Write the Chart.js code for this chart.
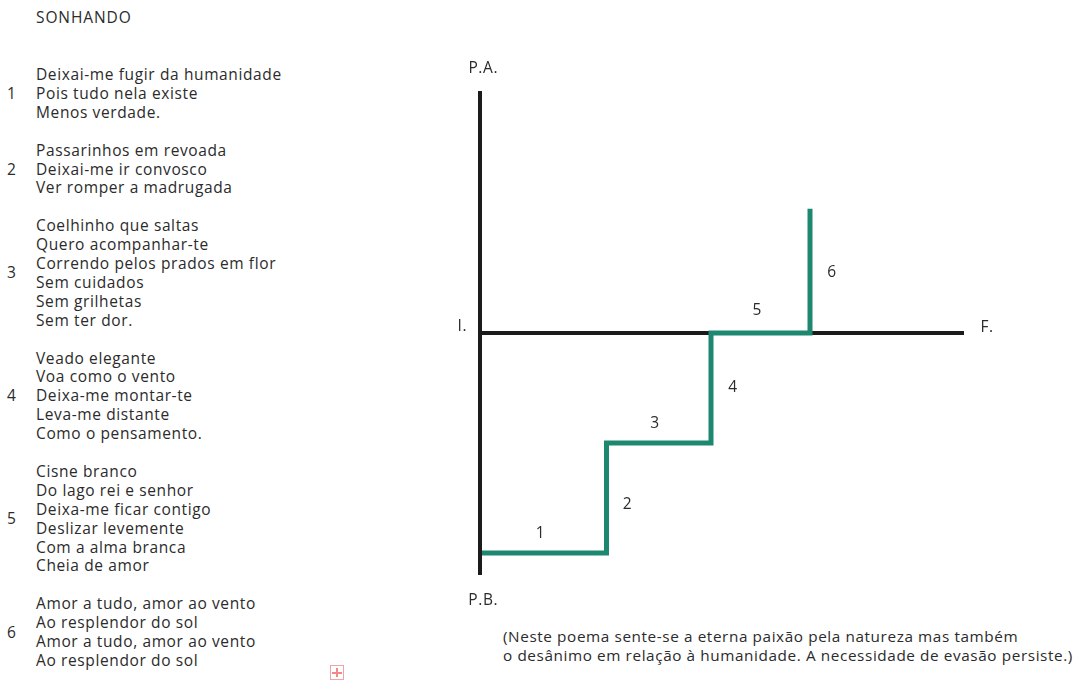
<!DOCTYPE html>
<html>
<head>
<meta charset="utf-8">
<script src="https://cdn.jsdelivr.net/npm/chart.js@4.4.1/dist/chart.umd.min.js"></script>
<style>
  html, body { margin: 0; padding: 0; }
  body { width: 1081px; height: 680px; background: #fff; position: relative; overflow: hidden;
         font-family: "Open Sans", "Noto Sans", sans-serif; color: #2b2b2b; font-size: 15.5px; letter-spacing: 0.62px; }
  #title { position: absolute; left: 36px; top: 8px; line-height: 19px; letter-spacing: 0.9px; }
  .stanza { position: absolute; left: 0; display: flex; align-items: center; line-height: 18.9px; }
  .num { width: 36px; text-indent: 7px; letter-spacing: 0; }
  #caption { position: absolute; left: 503px; top: 627px; line-height: 19px; font-size: 15.3px; letter-spacing: 0.6px; white-space: nowrap; }
  #chartWrap { position: absolute; left: 425px; top: 47px; width: 605px; height: 572px; }
  #icon { position: absolute; left: 330px; top: 665px; width: 12px; height: 13px; border: 1px solid #f2a3a3; }
  #icon:before { content: ""; position: absolute; left: 5px; top: 2px; width: 2px; height: 9px; background: #ee8a8a; }
  #icon:after { content: ""; position: absolute; left: 1px; top: 6px; width: 10px; height: 2px; background: #ee8a8a; }
</style>
</head>
<body>
<div id="title"></div>
<div id="poem"></div>
<div id="caption"></div>
<div id="icon"></div>
<div id="chartWrap"><canvas id="c" width="605" height="572"></canvas></div>
<script>
// ---- text content ----
const poemTitle = "SONHANDO";
const stanzaNumbers = ["1", "2", "3", "4", "5", "6"];
const stanzas = [
  ["Deixai-me fugir da humanidade", "Pois tudo nela existe", "Menos verdade."],
  ["Passarinhos em revoada", "Deixai-me ir convosco", "Ver romper a madrugada"],
  ["Coelhinho que saltas", "Quero acompanhar-te", "Correndo pelos prados em flor", "Sem cuidados", "Sem grilhetas", "Sem ter dor."],
  ["Veado elegante", "Voa como o vento", "Deixa-me montar-te", "Leva-me distante", "Como o pensamento."],
  ["Cisne branco", "Do lago rei e senhor", "Deixa-me ficar contigo", "Deslizar levemente", "Com a alma branca", "Cheia de amor"],
  ["Amor a tudo, amor ao vento", "Ao resplendor do sol", "Amor a tudo, amor ao vento", "Ao resplendor do sol"]
];
const captionLines = [
  "(Neste poema sente-se a eterna paixão pela natureza mas também",
  "o desânimo em relação à humanidade. A necessidade de evasão persiste.)"
];

// ---- chart data (abstract units) ----
const stepX = [0, 1.15, 1.15, 2.1, 2.1, 3.0, 3.0];
const stepY = [-2.0, -2.0, -1.0, -1.0, 0, 0, 1.13];
const vAxisX = [0, 0];
const vAxisY = [-2.2, 2.2];
const hAxisX = [0, 4.4];
const hAxisY = [0, 0];
const segmentLabels = ["1", "2", "3", "4", "5", "6"];
const segmentLabelX = [0.55, 1.34, 1.59, 2.30, 2.52, 3.20];
const segmentLabelY = [-1.82, -1.56, -0.82, -0.50, 0.20, 0.55];
const axisLabels = ["P.A.", "P.B.", "I.", "F."];
const axisLabelX = [0.03, 0.03, -0.16, 4.61];
const axisLabelY = [2.40, -2.43, 0.06, 0.05];

// ---- build poem DOM ----
document.getElementById("title").textContent = poemTitle;
const poem = document.getElementById("poem");
let lineTop = 8 + 19 * 3;
stanzas.forEach((lines, i) => {
  const s = document.createElement("div");
  s.className = "stanza";
  s.style.top = lineTop + "px";
  const n = document.createElement("div");
  n.className = "num";
  n.textContent = stanzaNumbers[i];
  const body = document.createElement("div");
  body.innerHTML = lines.map(l => "<div>" + l + "</div>").join("");
  s.appendChild(n); s.appendChild(body);
  poem.appendChild(s);
  lineTop += 18.9 * (lines.length + 1);
});
document.getElementById("caption").innerHTML = captionLines.map(l => "<div>" + l + "</div>").join("");

// ---- chart ----
const zip = (xs, ys) => xs.map((x, i) => ({ x, y: ys[i] }));

const textPlugin = {
  id: "textLabels",
  afterDatasetsDraw(chart) {
    const { ctx, scales: { x, y } } = chart;
    ctx.save();
    ctx.fillStyle = "#2b2b2b";
    ctx.textAlign = "center";
    ctx.textBaseline = "middle";
    ctx.font = '15.5px "Open Sans", "Noto Sans", sans-serif';
    segmentLabels.forEach((t, i) => {
      ctx.fillText(t, x.getPixelForValue(segmentLabelX[i]), y.getPixelForValue(segmentLabelY[i]));
    });
    axisLabels.forEach((t, i) => {
      ctx.fillText(t, x.getPixelForValue(axisLabelX[i]), y.getPixelForValue(axisLabelY[i]));
    });
    ctx.restore();
  }
};

new Chart(document.getElementById("c"), {
  type: "scatter",
  data: {
    datasets: [
      { label: "P.A.–P.B.", data: zip(vAxisX, vAxisY), showLine: true, borderColor: "#1b1b1b",
        borderWidth: 4, pointRadius: 0, borderCapStyle: "butt", clip: false },
      { label: "Sonhando", data: zip(stepX, stepY), showLine: true, borderColor: "#1e8770",
        borderWidth: 5, pointRadius: 0, borderJoinStyle: "miter", borderCapStyle: "butt", clip: false },
      { label: "I.–F.", data: zip(hAxisX, hAxisY), showLine: true, borderColor: "#1b1b1b",
        borderWidth: 4, pointRadius: 0, borderCapStyle: "butt", clip: false }
    ]
  },
  options: {
    responsive: false,
    animation: false,
    events: [],
    layout: { padding: 0 },
    plugins: { legend: { display: false }, tooltip: { enabled: false } },
    scales: {
      x: { type: "linear", min: -0.5, max: 5.0, display: false },
      y: { type: "linear", min: -2.6, max: 2.6, display: false }
    }
  },
  plugins: [textPlugin]
});
</script>
</body>
</html>
